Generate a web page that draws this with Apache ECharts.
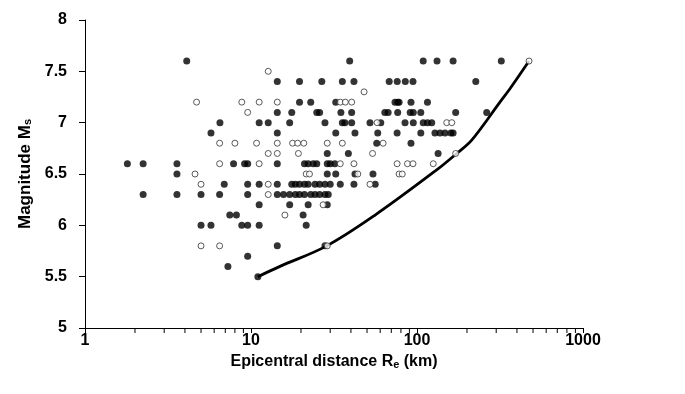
<!DOCTYPE html>
<html><head><meta charset="utf-8">
<script src="https://cdn.jsdelivr.net/npm/echarts@6/dist/echarts.min.js"></script>
<style>html,body{margin:0;padding:0;background:#fff}#c{width:685px;height:394px}</style>
</head><body><div id="c"></div>
<script>
// Filled symbols (epicentral distance km, magnitude)
const filledR = [4.1,39.3,109,132,165,322,
 14.4,19.6,26.7,35.5,41.7,68,76,85,94.6,226,
 19.6,22.9,32.4,73.7,76.5,78,92,115.6,
 14.4,17.6,24.9,25.9,34.8,40.4,64,67,76.5,91,95,105.4,171,263,
 6.5,11.2,12.7,17.1,27.9,35.5,36.8,40.4,52.1,60.5,84.7,95,109,115.6,122.7,
 5.74,14.4,32.4,42.3,58,75.9,105.4,128.3,137.6,147.5,160,165,
 57.2,92,
 28.8,38.6,134,
 1.8,2.24,3.58,7.85,9.15,9.55,14.4,21.0,22.1,23.7,24.9,28.8,30,32,
 3.58,28.8,32.4,42.3,54.3,
 6.9,9.55,11.2,14.4,17.6,18.5,19.6,21.0,22.1,24.3,25.9,27.9,30,34.5,41.7,56,
 2.24,3.58,5.0,6.47,9.55,14.4,15.7,17.1,18.5,19.6,21.0,22.9,24.3,25.9,27.9,29.2,
 11.2,17.1,22.1,28.8,
 7.45,8.17,20.6,
 5.0,5.74,8.8,9.55,11.2,21.5,
 14.4,27.9,
 9.55,
 7.26,
 11.0];
const filledM = [7.6,7.6,7.6,7.6,7.6,7.6,
 7.4,7.4,7.4,7.4,7.4,7.4,7.4,7.4,7.4,7.4,
 7.2,7.2,7.2,7.2,7.2,7.2,7.2,7.2,
 7.1,7.1,7.1,7.1,7.1,7.1,7.1,7.1,7.1,7.1,7.1,7.1,7.1,7.1,
 7.0,7.0,7.0,7.0,7.0,7.0,7.0,7.0,7.0,7.0,7.0,7.0,7.0,7.0,7.0,
 6.9,6.9,6.9,6.9,6.9,6.9,6.9,6.9,6.9,6.9,6.9,6.9,
 6.8,6.8,
 6.7,6.7,6.7,
 6.6,6.6,6.6,6.6,6.6,6.6,6.6,6.6,6.6,6.6,6.6,6.6,6.6,6.6,
 6.5,6.5,6.5,6.5,6.5,
 6.4,6.4,6.4,6.4,6.4,6.4,6.4,6.4,6.4,6.4,6.4,6.4,6.4,6.4,6.4,6.4,
 6.3,6.3,6.3,6.3,6.3,6.3,6.3,6.3,6.3,6.3,6.3,6.3,6.3,6.3,6.3,6.3,
 6.2,6.2,6.2,6.2,
 6.1,6.1,6.1,
 6.0,6.0,6.0,6.0,6.0,6.0,
 5.8,5.8,
 5.7,
 5.6,
 5.5];
// Open symbols
const openR = [473,
 12.7,
 48,
 4.7,8.8,11.2,14.4,34.5,37,40.4,
 9.55,
 57.5,151,162,
 6.47,8.0,10.8,14.4,17.8,19.1,20.8,28.8,35.5,62.5,
 12.7,14.4,19.3,54,171,
 6.47,11.2,34.5,41.7,75.9,87.6,94.6,125.3,
 4.6,21.5,22.5,44,78,81.5,
 5.0,12.7,52.1,
 12.7,
 27.2,
 16.0,
 5.0,6.47,28.8];
const openM = [7.6,
 7.5,
 7.3,
 7.2,7.2,7.2,7.2,7.2,7.2,7.2,
 7.1,
 7.0,7.0,7.0,
 6.8,6.8,6.8,6.8,6.8,6.8,6.8,6.8,6.8,6.8,
 6.7,6.7,6.7,6.7,6.7,
 6.6,6.6,6.6,6.6,6.6,6.6,6.6,6.6,
 6.5,6.5,6.5,6.5,6.5,6.5,
 6.4,6.4,6.4,
 6.3,
 6.2,
 6.1,
 5.8,5.8,5.8];
// Boundary curve
const curveR = [11.0,14.95,28.6,55.9,131.4,173.4,213.6,316,363,473];
const curveM = [5.5,5.6,5.8,6.1,6.54,6.7,6.83,7.2,7.33,7.6];
// Axis ticks
const minorTicks = [2,3,4,5,6,7,8,9,20,30,40,50,60,70,80,90,200,300,400,500,600,700,800,900];
const yMin = 5, yMax = 8, yStep = 0.5;

const FONT = '"Liberation Sans", Arial, sans-serif';
const zip = (a, b) => a.map((v, i) => [v, b[i]]);

const chart = echarts.init(document.getElementById('c'), null, {renderer: 'canvas'});
chart.setOption({
  animation: false,
  backgroundColor: '#fff',
  grid: {left: 85, right: 102, top: 20, bottom: 66},
  xAxis: {
    type: 'log', logBase: 10, min: 1, max: 1000,
    axisLine: {show: true, lineStyle: {color: '#000', width: 1}},
    axisTick: {show: true, length: 5, lineStyle: {color: '#000'}},
    splitLine: {show: false},
    axisLabel: {color: '#000', fontFamily: FONT, fontWeight: 'bold', fontSize: 16, margin: 5,
      formatter: v => String(Math.round(v))},
    name: 'Epicentral distance R{s|e} (km)',
    nameLocation: 'middle', nameGap: 12,
    nameTextStyle: {color: '#000', fontFamily: FONT, fontWeight: 'bold', fontSize: 16,
      rich: {s: {fontFamily: FONT, fontWeight: 'bold', fontSize: 11, padding: [7, 0, 0, 0], color: '#000'}}}
  },
  yAxis: {
    type: 'value', min: yMin, max: yMax, interval: yStep,
    axisLine: {show: true, lineStyle: {color: '#000', width: 1}},
    axisTick: {show: true, length: 6, lineStyle: {color: '#000'}},
    splitLine: {show: false},
    axisLabel: {color: '#000', fontFamily: FONT, fontWeight: 'bold', fontSize: 16, margin: 18},
    name: 'Magnitude M{s|s}',
    nameLocation: 'middle', nameGap: 51, nameRotate: 90,
    nameTextStyle: {color: '#000', fontFamily: FONT, fontWeight: 'bold', fontSize: 17,
      rich: {s: {fontFamily: FONT, fontWeight: 'bold', fontSize: 11, padding: [7, 0, 0, 0], color: '#000'}}}
  },
  series: [
    {
      type: 'custom', silent: true, clip: false, z: 1,
      data: minorTicks.map(v => [v, yMin]),
      renderItem: function (params, api) {
        const p = api.coord([api.value(0), api.value(1)]);
        return {type: 'line', shape: {x1: p[0], y1: p[1], x2: p[0], y2: p[1] + 5},
          style: {stroke: '#000', lineWidth: 1}};
      }
    },
    {
      type: 'line', data: zip(curveR, curveM), smooth: 0.35, showSymbol: false, symbol: 'none',
      lineStyle: {color: '#000', width: 2.8}, z: 2
    },
    {
      type: 'scatter', data: zip(filledR, filledM), symbol: 'circle', symbolSize: 7,
      itemStyle: {color: '#000'}, z: 3
    },
    {
      type: 'scatter', data: zip(openR, openM), symbol: 'circle', symbolSize: 6,
      itemStyle: {color: '#fff', borderColor: '#333', borderWidth: 1}, z: 4
    }
  ]
});
</script></body></html>
